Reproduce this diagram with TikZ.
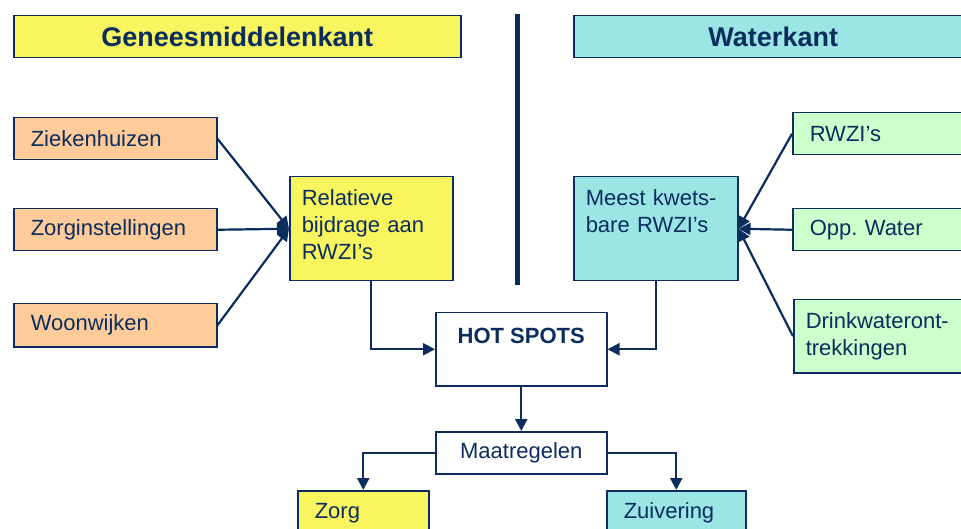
\documentclass[tikz,border=0pt]{standalone}
\usepackage{fontspec}
\setmainfont{Liberation Sans}
\usetikzlibrary{arrows.meta}
\frenchspacing
\definecolor{navy}{HTML}{0A2D5E}
\definecolor{yel}{HTML}{F9F55F}
\definecolor{cya}{HTML}{9BE5E5}
\definecolor{ora}{HTML}{FFCB99}
\definecolor{gre}{HTML}{CCFFCC}
\tikzset{
  base/.style={draw=navy, line width=1.5pt, text=navy, anchor=north west, inner ysep=0pt,
    font=\fontsize{22}{27}\selectfont},
  lbox/.style={base, inner xsep=17pt, align=left},
  cbox/.style={base, align=center},
  title/.style={base, font=\fontsize{27}{32}\bfseries\selectfont, align=center},
  arr/.style={draw=navy, line width=2.2pt, -{Triangle[length=12pt,width=12pt]}},
}
\begin{document}
\begin{tikzpicture}[x=1pt,y=-1pt]
\useasboundingbox (0,0) rectangle (961,529);
% titles
\node[title, fill=yel, minimum width=447pt, minimum height=42pt] (gm) at (13,15) {Geneesmiddelenkant};
\node[title, fill=cya, minimum width=399pt, minimum height=42pt] (wk) at (573,15) {Waterkant};
% divider
\coordinate (dtop) at (517,14);
\coordinate (dbot) at (517,285);
\draw[navy, line width=5pt] (dtop) -- (dbot);
% left boxes
\node[lbox, fill=ora, text width=169pt, minimum height=42pt] (zk) at (13,117) {Ziekenhuizen};
\node[lbox, fill=ora, text width=169pt, minimum height=42pt] (zo) at (13,208) {Zorginstellingen};
\node[lbox, fill=ora, text width=169pt, minimum height=43pt] (wo) at (13,303) {Woonwijken};
\node[base, fill=yel, inner xsep=12pt, align=left, text width=139pt, minimum height=104pt] (rel) at (289,176) {Relatieve\\bijdrage aan\\RWZI’s\\[-19pt]\mbox{}};
% right boxes
\node[base, fill=cya, inner xsep=12pt, align=left, text width=140pt, minimum height=104pt] (mk) at (573,176) {Meest kwets-\\bare RWZI’s\\\mbox{}\\[-19pt]\mbox{}};
\node[lbox, fill=gre, text width=156pt, minimum height=42pt] (rw) at (792,112) {RWZI’s};
\node[lbox, fill=gre, text width=156pt, minimum height=42pt] (ow) at (792,208) {Opp. Water};
\node[base, fill=gre, inner xsep=12pt, align=left, text width=166pt, minimum height=73pt] (dw) at (793,299) {Drinkwateront-\\trekkingen};
% centre
\node[cbox, fill=white, minimum width=171pt, minimum height=73pt] (hs) at (435,312) {\textbf{HOT SPOTS}\\\mbox{}};
\node[cbox, fill=white, minimum width=171pt, minimum height=42pt] (ma) at (435,431) {Maatregelen};
\node[lbox, fill=yel, text width=97pt, minimum height=44pt] (zg) at (297,490) {Zorg};
\node[lbox, fill=cya, text width=105pt, minimum height=44pt] (zv) at (606,490) {Zuivering};
% connectors
\draw[arr] (zk.east) -- (rel.west);
\draw[arr] (zo.east) -- (rel.west);
\draw[arr] (wo.east) -- (rel.west);
\draw[arr] (rw.west) -- (mk.east);
\draw[arr] (ow.west) -- (mk.east);
\draw[arr] (dw.west) -- (mk.east);
\draw[arr] (rel.south) |- (hs.west);
\draw[arr] (mk.south) |- (hs.east);
\draw[arr] (hs.south) -- (ma.north);
\draw[arr] (ma.west) -| (zg.north);
\draw[arr] (ma.east) -| (zv.north);
\end{tikzpicture}
\end{document}
